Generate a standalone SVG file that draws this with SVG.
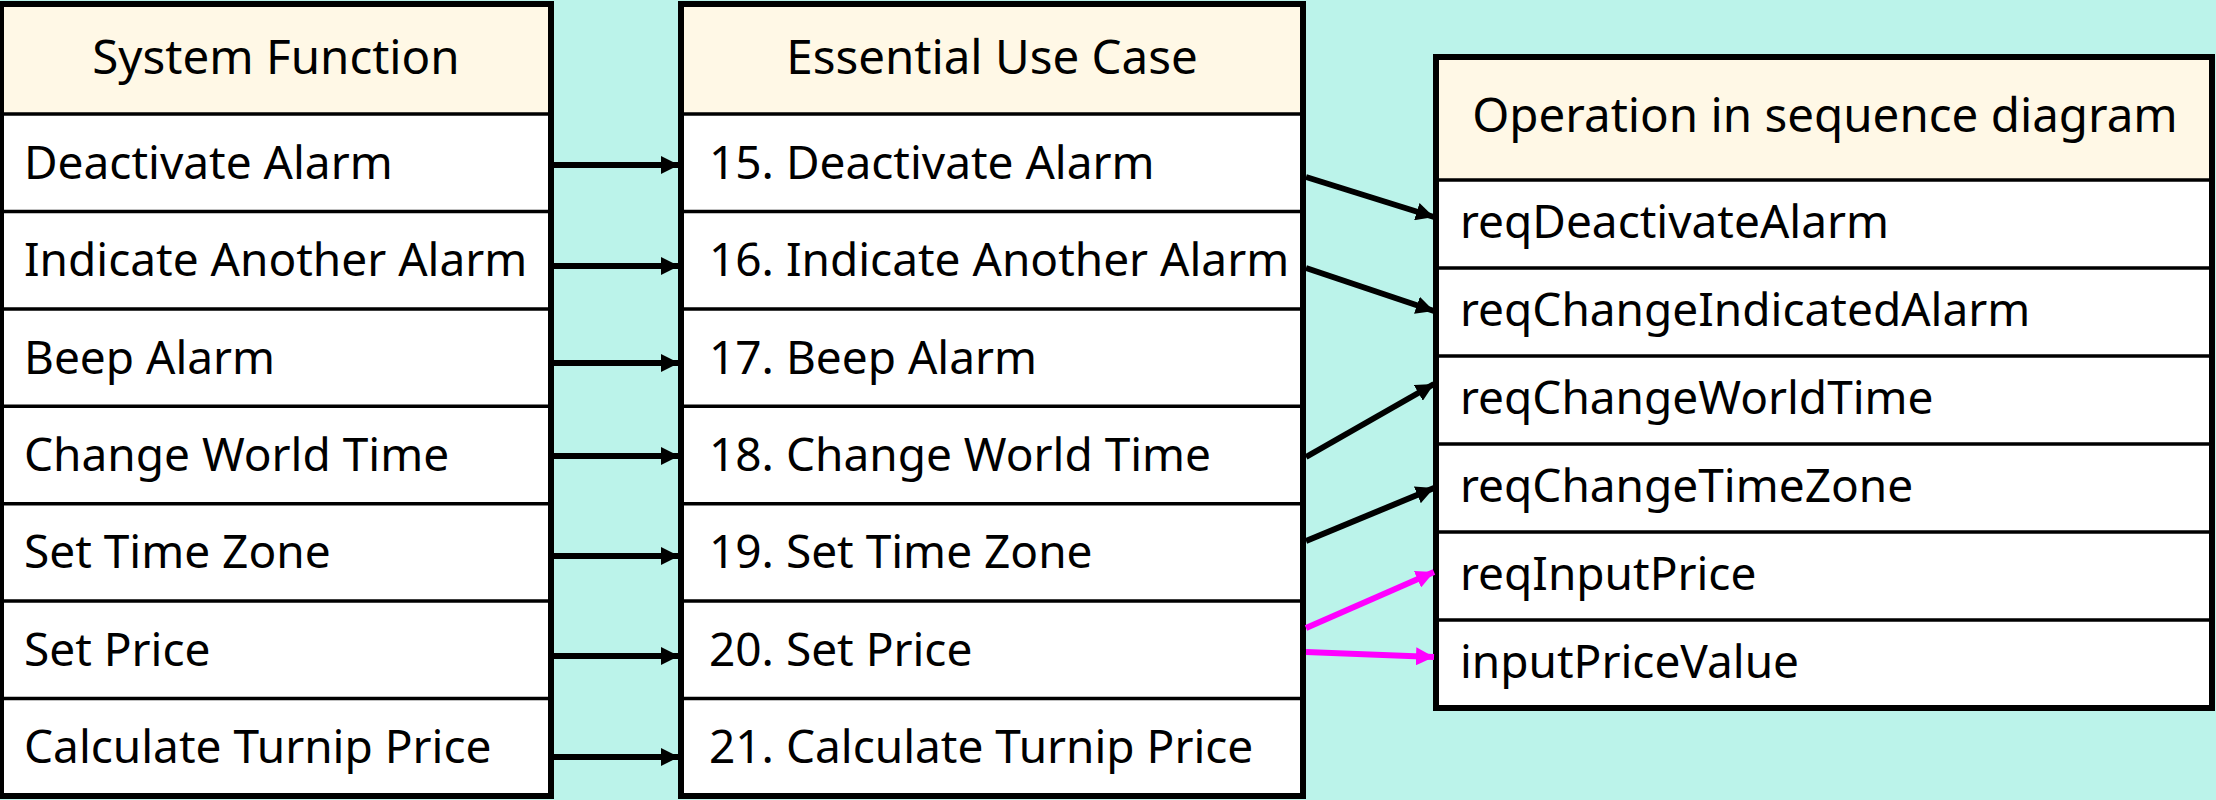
<svg xmlns="http://www.w3.org/2000/svg" width="2216" height="800" viewBox="0 0 2216 800">
<defs>
<style>
.bg{fill:#BBF3EA}
.hdr{fill:#FFF8E6}
.cell{fill:#FFFFFF}
.outer{fill:none;stroke:#000;stroke-width:6}
.sep{stroke:#000;stroke-width:3.5}
text{font-family:"Noto Sans","Open Sans","DejaVu Sans",sans-serif;font-size:46px;fill:#000}
.h{text-anchor:middle;font-size:47.5px}
.c{stroke:#000;stroke-width:6;fill:none}
.p{stroke:#FF00FF;stroke-width:6;fill:none}
</style>
<marker id="ab" viewBox="0 0 18 18" refX="18" refY="9" markerWidth="18" markerHeight="18" markerUnits="userSpaceOnUse" orient="auto">
<path d="M0,0 L18,9 L0,18 Z" fill="#000"/>
</marker>
<marker id="ap" viewBox="0 0 18 18" refX="18" refY="9" markerWidth="18" markerHeight="18" markerUnits="userSpaceOnUse" orient="auto">
<path d="M0,0 L18,9 L0,18 Z" fill="#FF00FF"/>
</marker>
</defs>
<rect class="bg" x="0" y="0" width="2216" height="800"/>

<g id="system-function">
<rect class="hdr" x="1" y="4" width="550" height="110"/>
<rect class="cell" x="1" y="114" width="550" height="682"/>
<line class="sep" x1="1" y1="114" x2="551" y2="114"/>
<line class="sep" x1="1" y1="211.4" x2="551" y2="211.4"/>
<line class="sep" x1="1" y1="308.9" x2="551" y2="308.9"/>
<line class="sep" x1="1" y1="406.3" x2="551" y2="406.3"/>
<line class="sep" x1="1" y1="503.7" x2="551" y2="503.7"/>
<line class="sep" x1="1" y1="601.1" x2="551" y2="601.1"/>
<line class="sep" x1="1" y1="698.6" x2="551" y2="698.6"/>
<rect class="outer" x="1" y="4" width="550" height="792"/>
<text class="h" x="276" y="74">System Function</text>
<text x="24" y="179">Deactivate Alarm</text>
<text x="24" y="276">Indicate Another Alarm</text>
<text x="24" y="374">Beep Alarm</text>
<text x="24" y="471">Change World Time</text>
<text x="24" y="568">Set Time Zone</text>
<text x="24" y="666">Set Price</text>
<text x="24" y="763">Calculate Turnip Price</text>
</g>

<g id="essential-use-case">
<rect class="hdr" x="681" y="4" width="622" height="110"/>
<rect class="cell" x="681" y="114" width="622" height="682"/>
<line class="sep" x1="681" y1="114" x2="1303" y2="114"/>
<line class="sep" x1="681" y1="211.4" x2="1303" y2="211.4"/>
<line class="sep" x1="681" y1="308.9" x2="1303" y2="308.9"/>
<line class="sep" x1="681" y1="406.3" x2="1303" y2="406.3"/>
<line class="sep" x1="681" y1="503.7" x2="1303" y2="503.7"/>
<line class="sep" x1="681" y1="601.1" x2="1303" y2="601.1"/>
<line class="sep" x1="681" y1="698.6" x2="1303" y2="698.6"/>
<rect class="outer" x="681" y="4" width="622" height="792"/>
<text class="h" x="992" y="74">Essential Use Case</text>
<text x="709" y="179">15. Deactivate Alarm</text>
<text x="709" y="276">16. Indicate Another Alarm</text>
<text x="709" y="374">17. Beep Alarm</text>
<text x="709" y="471">18. Change World Time</text>
<text x="709" y="568">19. Set Time Zone</text>
<text x="709" y="666">20. Set Price</text>
<text x="709" y="763">21. Calculate Turnip Price</text>
</g>

<g id="operation-sequence">
<rect class="hdr" x="1436" y="57" width="776" height="123"/>
<rect class="cell" x="1436" y="180" width="776" height="528"/>
<line class="sep" x1="1436" y1="180" x2="2212" y2="180"/>
<line class="sep" x1="1436" y1="268" x2="2212" y2="268"/>
<line class="sep" x1="1436" y1="356" x2="2212" y2="356"/>
<line class="sep" x1="1436" y1="444" x2="2212" y2="444"/>
<line class="sep" x1="1436" y1="532" x2="2212" y2="532"/>
<line class="sep" x1="1436" y1="620" x2="2212" y2="620"/>
<rect class="outer" x="1436" y="57" width="776" height="651"/>
<text class="h" x="1825" y="132">Operation in sequence diagram</text>
<text x="1460" y="238">reqDeactivateAlarm</text>
<text x="1460" y="326">reqChangeIndicatedAlarm</text>
<text x="1460" y="414">reqChangeWorldTime</text>
<text x="1460" y="502">reqChangeTimeZone</text>
<text x="1460" y="590">reqInputPrice</text>
<text x="1460" y="678">inputPriceValue</text>
</g>

<g id="connectors">
<line class="c" x1="554" y1="165" x2="679" y2="165" marker-end="url(#ab)"/>
<line class="c" x1="554" y1="266" x2="679" y2="266" marker-end="url(#ab)"/>
<line class="c" x1="554" y1="363" x2="679" y2="363" marker-end="url(#ab)"/>
<line class="c" x1="554" y1="456" x2="679" y2="456" marker-end="url(#ab)"/>
<line class="c" x1="554" y1="556" x2="679" y2="556" marker-end="url(#ab)"/>
<line class="c" x1="554" y1="656" x2="679" y2="656" marker-end="url(#ab)"/>
<line class="c" x1="554" y1="757" x2="679" y2="757" marker-end="url(#ab)"/>
<line class="c" x1="1306" y1="177" x2="1434" y2="217" marker-end="url(#ab)"/>
<line class="c" x1="1306" y1="268" x2="1434" y2="311" marker-end="url(#ab)"/>
<line class="c" x1="1306" y1="457" x2="1434" y2="384" marker-end="url(#ab)"/>
<line class="c" x1="1306" y1="541" x2="1434" y2="488" marker-end="url(#ab)"/>
<line class="p" x1="1306" y1="628" x2="1434" y2="572" marker-end="url(#ap)"/>
<line class="p" x1="1306" y1="652" x2="1434" y2="657" marker-end="url(#ap)"/>
</g>
</svg>
